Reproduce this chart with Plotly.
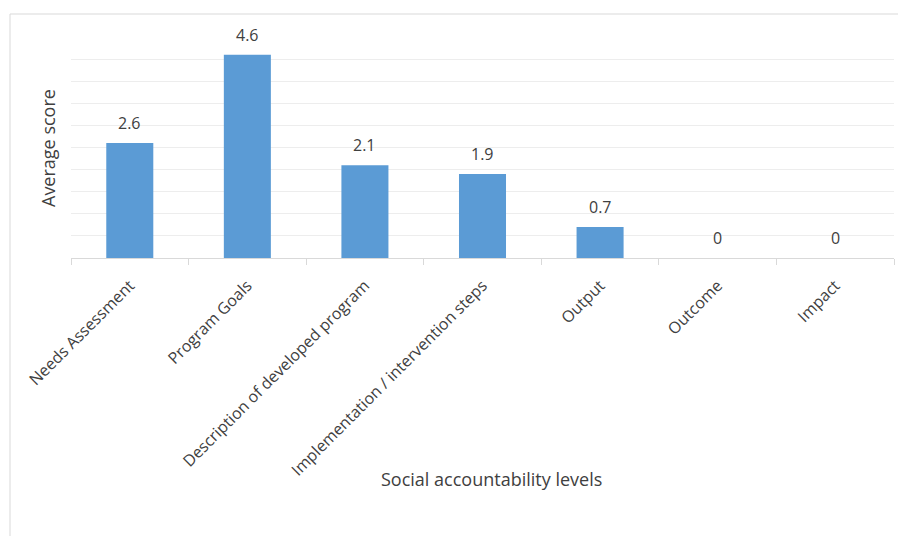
import plotly.graph_objects as go

categories = ["Needs Assessment", "Program Goals", "Description of developed program",
              "Implementation / intervention steps", "Output", "Outcome", "Impact"]
scores = [2.6, 4.6, 2.1, 1.9, 0.7, 0, 0]
labels = ["2.6", "4.6", "2.1", "1.9", "0.7", "0", "0"]

# page offset (browser body margin)
OFF = 8
W, H = 906, 536
# target plot area in screenshot coords: x 71..894, y 37..258
ml = 71 - OFF
mt = 37 - OFF
mr = W - (894 - OFF)
mb = H - (258 - OFF)
pw = W - ml - mr
ph = H - mt - mb

fig = go.Figure()
fig.add_trace(go.Bar(
    x=categories, y=scores, width=0.4,
    marker=dict(color="#5B9BD5", line=dict(width=0)),
    hoverinfo="x+y",
))
# invisible helper trace so the overlay axis (visible tick marks) is drawn
fig.add_trace(go.Scatter(x=categories, y=[None] * len(categories), xaxis="x2",
                         mode="markers", showlegend=False, hoverinfo="skip"))

for c, v, t in zip(categories, scores, labels):
    fig.add_annotation(x=c, y=v, text=t, showarrow=False, yshift=20,
                       yanchor="middle", xanchor="center",
                       font=dict(family="Open Sans", size=16, color="#404040"))

def px_x(x):
    return (x - OFF - ml) / pw

def px_y(y):
    return (H - (y - OFF) - mb) / ph

fig.add_annotation(xref="paper", yref="paper", x=px_x(491), y=px_y(479),
                   text="Social accountability levels", showarrow=False,
                   yanchor="middle", xanchor="center",
                   font=dict(family="Open Sans", size=18, color="#404040"))
fig.add_annotation(xref="paper", yref="paper", x=px_x(48), y=px_y(148),
                   text="Average score", showarrow=False, textangle=-90,
                   yanchor="middle", xanchor="center",
                   font=dict(family="Open Sans", size=18, color="#404040"))

fig.add_shape(type="line", xref="paper", yref="paper", x0=px_x(10), x1=px_x(10),
              y0=px_y(14), y1=px_y(560), line=dict(color="#D9D9D9", width=1))
fig.add_shape(type="line", xref="paper", yref="paper", x0=px_x(10), x1=px_x(930),
              y0=px_y(14), y1=px_y(14), line=dict(color="#D9D9D9", width=1))

fig.update_layout(
    width=W, height=H,
    margin=dict(l=ml, r=mr, t=mt, b=mb),
    paper_bgcolor="white", plot_bgcolor="white",
    showlegend=False,
    bargap=0.6,
    font=dict(family="Open Sans", size=16, color="#404040"),
    xaxis=dict(
        tickangle=-45, ticks="outside", ticklen=11, tickcolor="rgba(0,0,0,0)",
        showline=True, linecolor="#D9D9D9", linewidth=1,
        showgrid=False, automargin=False,
        tickfont=dict(family="Open Sans", size=16, color="#404040"),
    ),
    xaxis2=dict(
        overlaying="x", matches="x", anchor="y", side="bottom",
        ticks="outside", ticklen=6, tickcolor="#D9D9D9", tickson="boundaries",
        showticklabels=False, showline=False, showgrid=False, automargin=False,
    ),
    yaxis=dict(
        range=[0, 5], dtick=0.5, showticklabels=False, showgrid=True,
        gridcolor="#EDEDED", gridwidth=1, zeroline=False, showline=False,
        automargin=False, fixedrange=True,
    ),
)

fig.write_html("out.html")
